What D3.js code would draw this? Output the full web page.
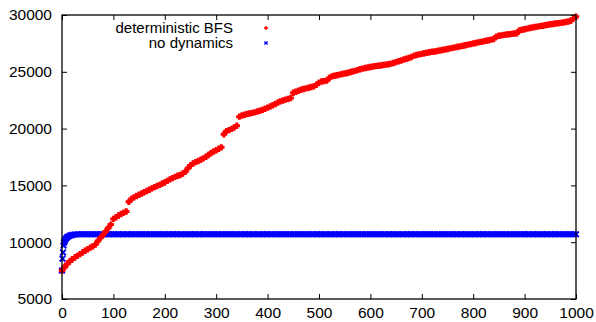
<!DOCTYPE html>
<html>
<head>
<meta charset="utf-8">
<script src="https://cdn.jsdelivr.net/npm/d3@7"></script>
<style>
  body { margin: 0; background: #fff; }
  svg { display: block; font-family: "Liberation Sans", Arial, sans-serif; }
</style>
</head>
<body>
<div id="chart"></div>
<script>
// series names
var seriesNames = ['deterministic BFS', 'no dynamics']

// deterministic BFS, read every 5 steps from x = 0 to 1000
var bfsValues = [
  7500, 7800, 8080, 8300, 8500, 8650, 8800, 8950, 9100, 9250,
  9380, 9520, 9650, 9800, 10100, 10400, 10650, 10950, 11250, 11550,
  12050, 12200, 12350, 12480, 12600, 12700, 13550, 13800, 13950, 14070,
  14180, 14290, 14400, 14510, 14620, 14740, 14850, 14950, 15050, 15170,
  15260, 15400, 15530, 15640, 15750, 15850, 15920, 16050, 16200, 16500,
  16750, 16930, 17050, 17150, 17260, 17380, 17520, 17680, 17850, 17980,
  18100, 18230, 18350, 19500, 19780, 19870, 19980, 20100, 20250, 21050,
  21150, 21220, 21280, 21330, 21380, 21430, 21500, 21570, 21650, 21750,
  21850, 21950, 22050, 22170, 22300, 22400, 22480, 22550, 22620, 22700,
  23150, 23250, 23330, 23420, 23480, 23540, 23600, 23660, 23720, 23850,
  24050, 24150, 24180, 24220, 24450, 24600, 24650, 24700, 24750, 24800,
  24850, 24900, 24960, 25020, 25080, 25150, 25220, 25280, 25330, 25380,
  25420, 25460, 25500, 25530, 25560, 25600, 25630, 25670, 25720, 25780,
  25850, 25930, 26000, 26080, 26150, 26220, 26300, 26420, 26480, 26530,
  26580, 26630, 26680, 26720, 26760, 26790, 26830, 26870, 26920, 26960,
  27010, 27060, 27110, 27150, 27200, 27240, 27290, 27340, 27390, 27440,
  27490, 27540, 27590, 27630, 27680, 27730, 27780, 27830, 27880, 28100,
  28170, 28210, 28250, 28280, 28310, 28340, 28370, 28400, 28650, 28700,
  28750, 28800, 28850, 28900, 28940, 28980, 29020, 29060, 29100, 29140,
  29180, 29210, 29250, 29280, 29310, 29340, 29380, 29430, 29500, 29700,
  29850
]

// no dynamics: the first few points are read one by one
var noDynEarlyX = [0, 1, 2, 3, 4, 5, 6, 8, 10, 12, 15, 18, 21, 25, 30, 35]
var noDynEarlyY = [7500, 8550, 9100, 9700, 9950, 10100, 10200, 10330, 10430, 10500, 10570, 10620, 10650, 10670, 10690, 10700]
// then every 5 steps from x = 40 to 1000
var noDynLateY = [
  10700, 10700, 10700, 10700, 10700, 10700, 10700, 10700, 10700, 10700,
  10700, 10700, 10700, 10700, 10700, 10700, 10700, 10700, 10700, 10700,
  10700, 10700, 10700, 10700, 10700, 10700, 10700, 10700, 10700, 10700,
  10700, 10700, 10700, 10700, 10700, 10700, 10700, 10700, 10700, 10700,
  10700, 10700, 10700, 10700, 10700, 10700, 10700, 10700, 10700, 10700,
  10700, 10700, 10700, 10700, 10700, 10700, 10700, 10700, 10700, 10700,
  10700, 10700, 10700, 10700, 10700, 10700, 10700, 10700, 10700, 10700,
  10700, 10700, 10700, 10700, 10700, 10700, 10700, 10700, 10700, 10700,
  10700, 10700, 10700, 10700, 10700, 10700, 10700, 10700, 10700, 10700,
  10700, 10700, 10700, 10700, 10700, 10700, 10700, 10700, 10700, 10700,
  10700, 10700, 10700, 10700, 10700, 10700, 10700, 10700, 10700, 10700,
  10700, 10700, 10700, 10700, 10700, 10700, 10700, 10700, 10700, 10700,
  10700, 10700, 10700, 10700, 10700, 10700, 10700, 10700, 10700, 10700,
  10700, 10700, 10700, 10700, 10700, 10700, 10700, 10700, 10700, 10700,
  10700, 10700, 10700, 10700, 10700, 10700, 10700, 10700, 10700, 10700,
  10700, 10700, 10700, 10700, 10700, 10700, 10700, 10700, 10700, 10700,
  10700, 10700, 10700, 10700, 10700, 10700, 10700, 10700, 10700, 10700,
  10700, 10700, 10700, 10700, 10700, 10700, 10700, 10700, 10700, 10700,
  10700, 10700, 10700, 10700, 10700, 10700, 10700, 10700, 10700, 10700,
  10700, 10700, 10700
]

var xTicks = [0, 100, 200, 300, 400, 500, 600, 700, 800, 900, 1000]
var yTicks = [5000, 10000, 15000, 20000, 25000, 30000]

var width = 596
var height = 322
var margin = { top: 15, right: 20, bottom: 23, left: 62 }

var svg = d3.select('#chart').append('svg')
  .attr('width', width)
  .attr('height', height)

var x = d3.scaleLinear().domain([0, 1000]).range([margin.left, width - margin.right])
var y = d3.scaleLinear().domain([5000, 30000]).range([height - margin.bottom, margin.top])

var bfsX = d3.range(0, 1001, 5)
var bfsData = bfsValues.map(function (v, i) { return { x: bfsX[i], y: v } })
var lateX = d3.range(40, 1001, 5)
var noDynData = noDynEarlyX.map(function (v, i) { return { x: v, y: noDynEarlyY[i] } })
  .concat(noDynLateY.map(function (v, i) { return { x: lateX[i], y: v } }))

var plusPath = 'M-3.2,0H3.2M0,-3.2V3.2'
var crossPath = 'M-2.8,-2.8L2.8,2.8M-2.8,2.8L2.8,-2.8'
var fmt = d3.format('d')

function styleAxis (g) {
  g.select('.domain').remove()
  g.selectAll('line').attr('stroke', '#000')
  g.selectAll('text').attr('fill', '#000').style('font-size', '15.5px')
}

// axes, ticks pointing inward like gnuplot
svg.append('g')
  .attr('transform', 'translate(0,' + y(5000) + ')')
  .call(d3.axisBottom(x).tickValues(xTicks).tickFormat(fmt).tickSize(-5).tickPadding(8))
  .call(styleAxis)
svg.append('g')
  .attr('transform', 'translate(0,' + y(30000) + ')')
  .call(d3.axisTop(x).tickValues(xTicks).tickSize(-5).tickFormat(''))
  .call(styleAxis)
svg.append('g')
  .attr('transform', 'translate(' + x(0) + ',0)')
  .call(d3.axisLeft(y).tickValues(yTicks).tickFormat(fmt).tickSize(-5).tickPadding(10))
  .call(styleAxis)
svg.append('g')
  .attr('transform', 'translate(' + x(1000) + ',0)')
  .call(d3.axisRight(y).tickValues(yTicks).tickSize(-5).tickFormat(''))
  .call(styleAxis)

// data points
svg.append('g').selectAll('path')
  .data(noDynData)
  .enter().append('path')
  .attr('d', crossPath)
  .attr('transform', function (d) { return 'translate(' + x(d.x) + ',' + y(d.y) + ')' })
  .attr('stroke', '#0000ff')
  .attr('stroke-width', 2)

svg.append('g').selectAll('path')
  .data(bfsData)
  .enter().append('path')
  .attr('d', plusPath)
  .attr('transform', function (d) { return 'translate(' + x(d.x) + ',' + y(d.y) + ')' })
  .attr('stroke', '#ff0000')
  .attr('stroke-width', 3)

// border
svg.append('rect')
  .attr('x', x(0))
  .attr('y', y(30000))
  .attr('width', x(1000) - x(0))
  .attr('height', y(5000) - y(30000))
  .attr('fill', 'none')
  .attr('stroke', '#000')
  .attr('stroke-width', 1.3)

// key
var key = svg.append('g')
var keyRows = [
  { name: seriesNames[0], color: '#ff0000', shape: 'M-2,0H2M0,-2V2', cy: 28 },
  { name: seriesNames[1], color: '#0000ff', shape: 'M-1.6,-1.6L1.6,1.6M-1.6,1.6L1.6,-1.6', cy: 43 }
]
keyRows.forEach(function (r) {
  key.append('text')
    .attr('x', 233)
    .attr('y', r.cy)
    .attr('dy', '0.35em')
    .attr('text-anchor', 'end')
    .style('font-size', '15px')
    .text(r.name)
  key.append('path')
    .attr('d', r.shape)
    .attr('transform', 'translate(266,' + r.cy + ')')
    .attr('stroke', r.color)
    .attr('stroke-width', 1.4)
})
</script>
</body>
</html>
